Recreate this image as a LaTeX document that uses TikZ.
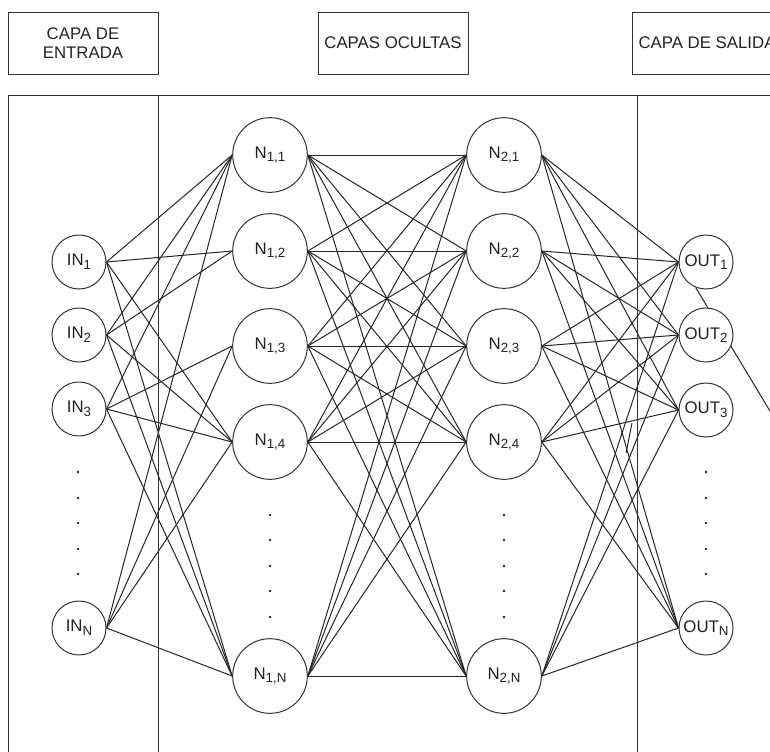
\documentclass[tikz,border=0pt]{standalone}
\usepackage{fontspec}
\setmainfont{Liberation Sans}
\usetikzlibrary{backgrounds}
\definecolor{ink}{HTML}{222222}
\definecolor{ring}{HTML}{333333}
\definecolor{wire}{HTML}{262626}
% lowered, smaller index text after a unit label
\newcommand{\idx}[1]{\raisebox{-2.8pt}{\fontsize{10}{10}\selectfont #1}}
\begin{document}
\begin{tikzpicture}[x=0.75pt,y=-0.75pt,
  every node/.style={font=\fontsize{12.6}{14}\selectfont, text=ink},
  neuron/.style={circle, draw=ring, fill=white, line width=0.75pt, inner sep=0pt, minimum size=56pt},
  unit/.style={neuron, minimum size=40.5pt},
  link/.style={draw=wire, line width=0.75pt},
  frame/.style={draw=ring, line width=0.75pt},
  header/.style={draw=ring, line width=0.75pt, minimum width=112.5pt, minimum height=46.5pt, align=center, inner sep=0pt},
  ellip/.style={fill=ink}
]
\clip (0,0) rectangle (770,751);

% layer titles
\node[header] (tin)  at (83,43)  {CAPA DE\\[0pt]ENTRADA};
\node[header] (thid) at (393,43) {CAPAS OCULTAS};
\node[header] (tout) at (707,43) {CAPA DE SALIDA};

% column frame
\draw[frame] (8,95) rectangle (800,780);
\draw[frame] (158,95) -- (158,780);
\draw[frame] (637,95) -- (637,780);

% input layer
\node[unit] (in1) at (79,262) {IN\idx{1}};
\node[unit] (in2) at (79,335) {IN\idx{2}};
\node[unit] (in3) at (79,409) {IN\idx{3}};
\node[unit] (inn) at (79,628) {IN\idx{N}};

% first hidden layer
\node[neuron] (h11) at (270,155) {N\idx{1,1}};
\node[neuron] (h12) at (270,251) {N\idx{1,2}};
\node[neuron] (h13) at (270,346) {N\idx{1,3}};
\node[neuron] (h14) at (270,442) {N\idx{1,4}};
\node[neuron] (h1n) at (270,676) {N\idx{1,N}};

% second hidden layer
\node[neuron] (h21) at (504,155) {N\idx{2,1}};
\node[neuron] (h22) at (504,251) {N\idx{2,2}};
\node[neuron] (h23) at (504,346) {N\idx{2,3}};
\node[neuron] (h24) at (504,442) {N\idx{2,4}};
\node[neuron] (h2n) at (504,676) {N\idx{2,N}};

% output layer
\node[unit] (out1) at (706,262) {OUT\idx{1}};
\node[unit] (out2) at (706,335) {OUT\idx{2}};
\node[unit] (out3) at (706,410) {OUT\idx{3}};
\node[unit] (outn) at (706,628) {OUT\idx{N}};

% vertical ellipses
\foreach \y in {472,498,523,549,574} {
  \fill[ellip] (78,\y) circle (1pt);
  \fill[ellip] (706,\y) circle (1pt);
}
\foreach \y in {515,540,566,591,617} {
  \fill[ellip] (270,\y) circle (1pt);
  \fill[ellip] (504,\y) circle (1pt);
}

\coordinate (away) at (800,461);
\coordinate (stubtop) at (632,423);
\coordinate (stubfoot) at (626,453);

\begin{scope}[on background layer]
  % input -> first hidden
  \foreach \a/\b in {in1/h11,in1/h12,in1/h14,in1/h1n,
                     in2/h11,in2/h12,in2/h14,in2/h1n,
                     in3/h11,in3/h13,in3/h14,in3/h1n,
                     inn/h11,inn/h13,inn/h14,inn/h1n}
    \draw[link] (\a.east) -- (\b.west);
  % first hidden -> second hidden
  \foreach \a in {1,2,3,4,n}
    \foreach \b in {1,2,3,4,n}
      \draw[link] (h1\a.east) -- (h2\b.west);
  % second hidden -> output
  \foreach \a in {1,2,3,4,n}
    \foreach \b in {1,2,3,n}
      \draw[link] (h2\a.east) -- (out\b.west);
  % outgoing line behind OUT2
  \draw[link] (out1.248) -- (away);
  % short loose segment
  \draw[link] (stubtop) -- (stubfoot);
\end{scope}
\end{tikzpicture}
\end{document}
